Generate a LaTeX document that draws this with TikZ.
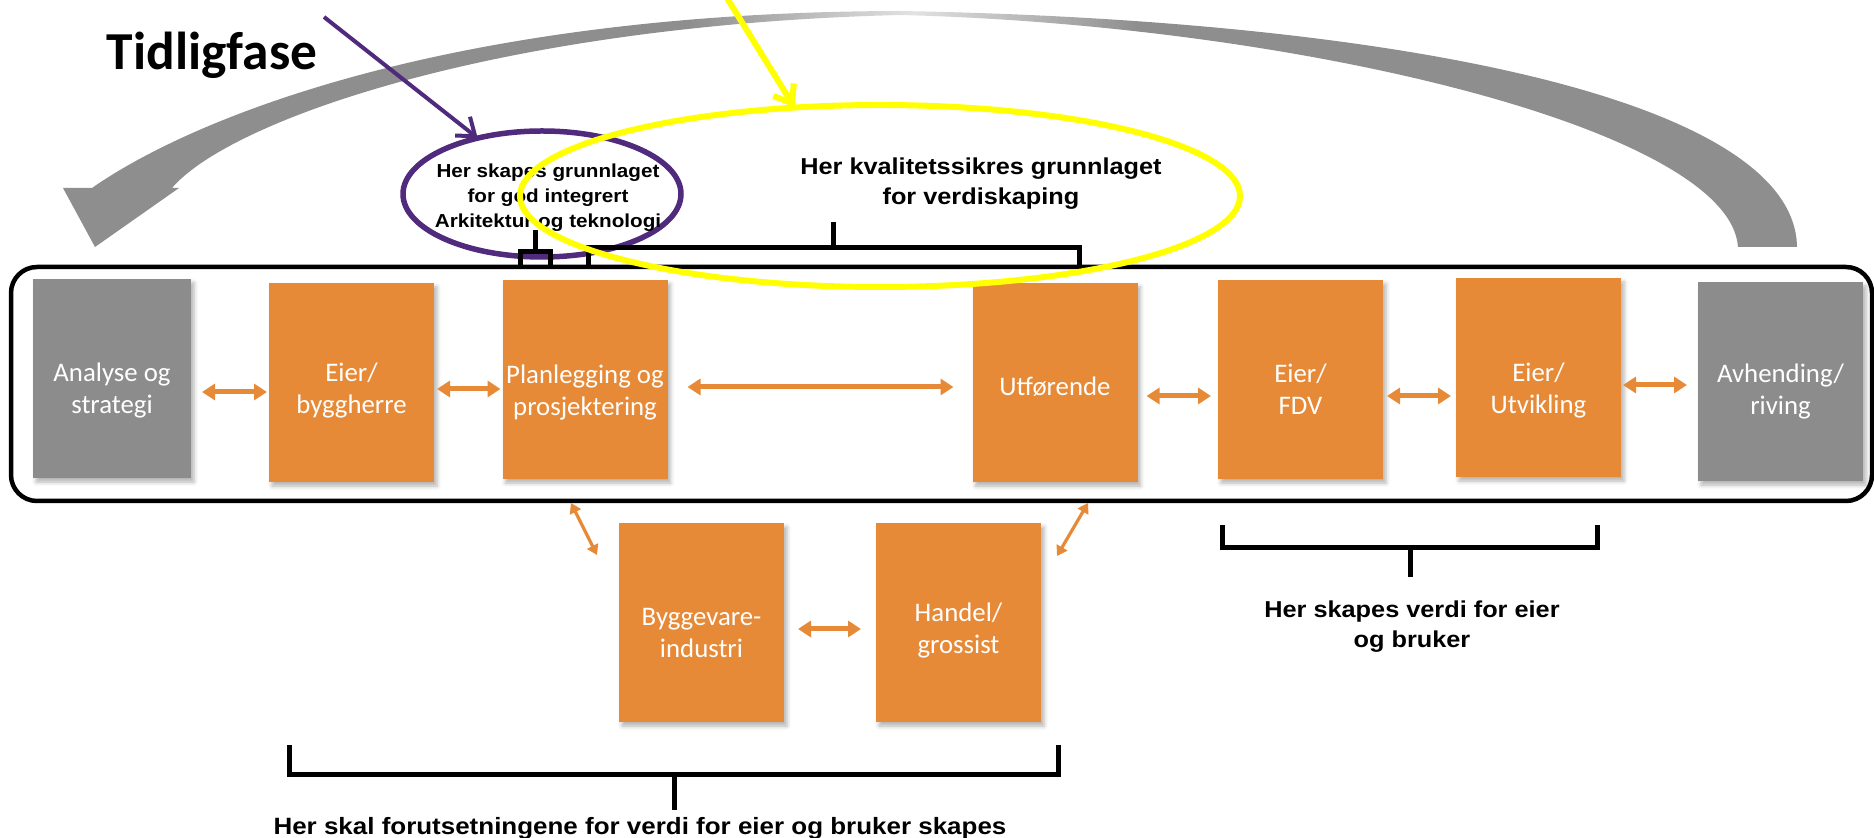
\documentclass[tikz,border=0pt]{standalone}
\usepackage{fontspec}
\setmainfont{Carlito}
\newfontfamily\calloutfont[FakeStretch=1.1]{Liberation Sans}
\usetikzlibrary{arrows.meta,calc,shapes.geometric,shadows.blur}

\definecolor{boxorange}{HTML}{E78A37}
\definecolor{boxgray}{HTML}{8C8C8C}
\definecolor{bandgray}{HTML}{8E8E8E}
\definecolor{bandlight}{HTML}{E2E2E2}
\definecolor{tidlig}{HTML}{4F2A7D}
\definecolor{kvalitet}{HTML}{FFFF00}

% the return band fades towards its apex
\pgfdeclarehorizontalshading{bandshade}{100bp}{color(0bp)=(bandgray); color(43bp)=(bandgray); color(49.5bp)=(bandlight); color(56bp)=(bandgray); color(100bp)=(bandgray)}

\begin{document}
\begin{tikzpicture}[x=0.5pt,y=-0.5pt,
  box/.style={minimum width=82.5pt, minimum height=99.5pt, inner sep=0pt, outer sep=0pt,
    blur shadow={shadow xshift=1.5pt, shadow yshift=-2pt, shadow blur radius=2pt, shadow opacity=30}},
  obox/.style={box, fill=boxorange},
  gbox/.style={box, fill=boxgray},
  boxtext/.style={text=white, font=\fontsize{13.4}{16}\selectfont, align=center},
  oarrow/.style={draw=boxorange, line width=2.5pt, {Triangle[width=8pt,length=6.5pt]}-{Triangle[width=8pt,length=6.5pt]}},
  odiag/.style={draw=boxorange, line width=1.6pt, {Triangle[width=6pt,length=5pt]}-{Triangle[width=6pt,length=5pt]}},
  bracket/.style={draw=black, line width=2.5pt, line join=miter, line cap=butt},
  callout/.style={font=\calloutfont\bfseries\fontsize{11.5}{15}\selectfont, align=center},
  ring/.style={ellipse, inner sep=0pt, outer sep=0pt}]

\useasboundingbox (0,0) rectangle (1874,838);

% large returning arrow from the end of the chain back to the start
\shade[shading=bandshade]
  (1797,247) .. controls (1795,100) and (1400,20) .. (900,11)
  .. controls (450,12) and (192,118) .. (92,188)
  -- (63,188) -- (95,247) -- (179,188) -- (172,188)
  .. controls (230,120) and (500,25) .. (900,15)
  .. controls (1300,25) and (1730,130) .. (1738,247) -- cycle;

% frame around the value chain
\node[draw=black, line width=2.25pt, rounded corners=13pt, minimum width=930.5pt, minimum height=117pt, inner sep=0pt]
  (frame) at (941.5,384) {};

% the chain
\node[gbox, minimum width=79pt, label={[boxtext, yshift=-6pt]center:{Analyse og\\strategi}}] (A) at (112,378.5) {};
\node[obox, label={[boxtext, yshift=-4pt]center:{Eier/\\byggherre}}] (B) at (351.5,382.5) {};
\node[obox, label={[boxtext, yshift=-6.5pt]center:{Planlegging og\\prosjektering}}] (P) at (585,379.5) {};
\node[obox, label={[boxtext, yshift=-2pt]center:{Utførende}}] (U) at (1055,382.5) {};
\node[obox, label={[boxtext, yshift=-5pt]center:{Eier/\\FDV}}] (F) at (1300.5,379.5) {};
\node[obox, label={[boxtext, yshift=-6.5pt]center:{Eier/\\Utvikling}}] (EU) at (1538.5,377.5) {};
\node[gbox, label={[boxtext, yshift=-5pt]center:{Avhending/\\riving}}] (AV) at (1780.5,381.5) {};
\node[obox, label={[boxtext, yshift=-5.5pt]center:{Byggevare-\\industri}}] (BY) at (701.5,622.5) {};
\node[obox, label={[boxtext, yshift=-4pt]center:{Handel/\\grossist}}] (H) at (958.5,622.5) {};

% links between the actors
\draw[oarrow] ($(A.east |- 0,392)+(11,0)$) -- ($(B.west |- 0,392)+(-2,0)$);
\draw[oarrow] ($(B.east |- 0,389)+(3,0)$) -- ($(P.west |- 0,389)+(-2,0)$);
\draw[oarrow] ($(P.east |- 0,387)+(20,0)$) -- ($(U.west |- 0,387)+(-19,0)$);
\draw[oarrow] ($(U.east |- 0,396)+(9,0)$) -- ($(F.west |- 0,396)+(-7,0)$);
\draw[oarrow] ($(F.east |- 0,396)+(4,0)$) -- ($(EU.west |- 0,396)+(-5,0)$);
\draw[oarrow] ($(EU.east |- 0,385)+(2,0)$) -- ($(AV.west |- 0,385)+(-11,0)$);
\draw[oarrow] ($(BY.east |- 0,629)+(14,0)$) -- ($(H.west |- 0,629)+(-15,0)$);
\draw[odiag] ($(P.south)+(-14,24)$) -- ($(BY.north west)+(-22,32)$);
\draw[odiag] ($(U.south)+(33,21)$) -- ($(H.north east)+(16,33)$);

% early phase
\node[ring, draw=tidlig, line width=2.75pt, minimum width=139pt, minimum height=63pt] (pel) at (542,194) {};
\node[callout, font=\calloutfont\bfseries\fontsize{9.4}{12.5}\selectfont] (ptxt) at (548,198)
  {Her skapes grunnlaget\\for god integrert\\Arkitektur og teknologi};

% brackets
\draw[bracket] (520,268) -- (520,252) -- (550,252) -- (550,268) (535,252) -- (535,230);
\draw[bracket] (588,268) -- (588,248) -- (1079,248) -- (1079,268) (833,248) -- (833,222);
\draw[bracket] (1222,525) -- (1222,548) -- (1597,548) -- (1597,525) (1410,548) -- (1410,577);
\draw[bracket] (289,745) -- (289,775) -- (1058,775) -- (1058,745) (674,775) -- (674,810);

% quality assurance
\node[ring, draw=kvalitet, line width=3pt, minimum width=360pt, minimum height=91pt] (yel) at (880,196) {};
\node[callout] (ytxt) at (981,184) {Her kvalitetssikres grunnlaget\\for verdiskaping};

\node[callout] (vtxt) at (1412,627) {Her skapes verdi for eier\\og bruker};
\node[callout, font=\calloutfont\bfseries\fontsize{11.8}{15}\selectfont] (btxt) at (640,828)
  {Her skal forutsetningene for verdi for eier og bruker skapes};

% heading and pointers
\node[anchor=base, font=\bfseries\fontsize{26.7}{30}\selectfont] (title) at (212,70) {Tidligfase};
\coordinate (pstart) at (324,17);
\coordinate (ystart) at (722,-10);
\draw[draw=tidlig, line width=2pt, -{Straight Barb[length=8pt,width=12pt]}] (pstart) -- (pel.139);
\draw[draw=kvalitet, line width=3pt, line cap=round, -{Straight Barb[length=8pt,width=12pt]}] (ystart) -- (yel.134);

\end{tikzpicture}
\end{document}
